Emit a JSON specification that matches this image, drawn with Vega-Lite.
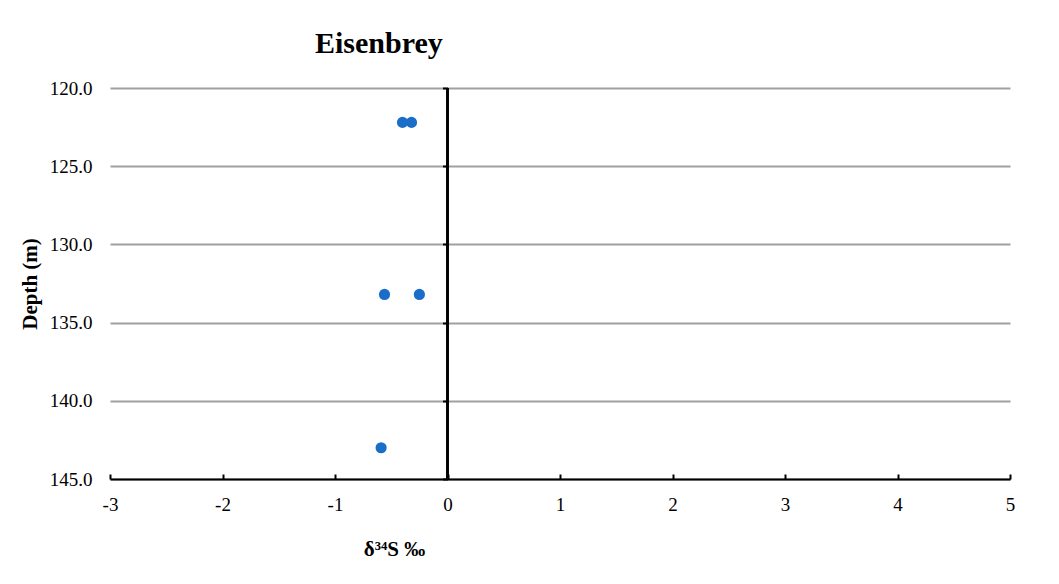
{
  "$schema": "https://vega.github.io/schema/vega-lite/v6.json",
  "width": 900,
  "height": 391,
  "autosize": {"type": "none"},
  "padding": {"left": 110, "top": 88, "right": 49, "bottom": 105},
  "background": "white",
  "config": {
    "view": {"stroke": null},
    "font": "Liberation Serif"
  },
  "title": {
    "text": "Eisenbrey",
    "font": "Liberation Serif",
    "fontSize": 30,
    "fontWeight": "bold",
    "color": "black",
    "anchor": "start",
    "frame": "group",
    "dx": 205,
    "baseline": "alphabetic",
    "offset": -4
  },
  "data": {
    "values": [
      {"d34S": -0.40, "depth": 122.2},
      {"d34S": -0.32, "depth": 122.2},
      {"d34S": -0.56, "depth": 133.2},
      {"d34S": -0.25, "depth": 133.2},
      {"d34S": -0.59, "depth": 143.0}
    ]
  },
  "layer": [
    {
      "mark": {"type": "rule", "color": "black", "strokeWidth": 2},
      "encoding": {
        "x": {"datum": 0, "type": "quantitative", "scale": {"domain": [-3, 5], "nice": false}},
        "y": {
          "datum": 120,
          "type": "quantitative",
          "scale": {"domain": [120, 145], "reverse": true, "nice": false},
          "axis": {
            "orient": "left",
            "offset": -337.5,
            "domain": false,
            "labels": false,
            "grid": false,
            "title": null,
            "values": [120, 125, 130, 135, 140, 145],
            "ticks": true,
            "tickSize": 5,
            "tickWidth": 2,
            "tickColor": "black"
          }
        },
        "y2": {"datum": 145}
      }
    },
    {
      "mark": {"type": "point", "filled": true, "opacity": 1, "size": 125, "color": "#1b6ec8"},
      "encoding": {
        "x": {
          "field": "d34S",
          "type": "quantitative",
          "scale": {"domain": [-3, 5], "nice": false},
          "axis": {
            "orient": "bottom",
            "values": [-3, -2, -1, 0, 1, 2, 3, 4, 5],
            "labelExpr": "'' + datum.value",
            "grid": false,
            "domain": true,
            "domainColor": "black",
            "domainWidth": 2,
            "ticks": true,
            "tickSize": -5,
            "tickWidth": 2,
            "tickColor": "black",
            "labelFont": "Liberation Serif",
            "labelFontSize": 19,
            "labelColor": "black",
            "labelPadding": 21,
            "labelFlush": false,
            "title": "δ³⁴S ‰",
            "titleFont": "Liberation Serif",
            "titleFontSize": 21,
            "titleFontWeight": "bold",
            "titleColor": "black",
            "titleX": 284,
            "titleY": 76,
            "titleAlign": "center",
            "titleBaseline": "alphabetic"
          }
        },
        "y": {
          "field": "depth",
          "type": "quantitative",
          "scale": {"domain": [120, 145], "reverse": true, "nice": false},
          "axis": {
            "orient": "left",
            "values": [120, 125, 130, 135, 140, 145],
            "format": ".1f",
            "domain": false,
            "ticks": false,
            "grid": true,
            "gridColor": "#a0a0a0",
            "gridWidth": 2,
            "gridOpacity": 1,
            "labelFont": "Liberation Serif",
            "labelFontSize": 19,
            "labelColor": "black",
            "labelPadding": 18,
            "labelFlush": false,
            "title": "Depth (m)",
            "titleFont": "Liberation Serif",
            "titleFontSize": 21,
            "titleFontWeight": "bold",
            "titleColor": "black",
            "titleAngle": -90,
            "titleX": -74,
            "titleY": 195.5,
            "titleAlign": "center",
            "titleBaseline": "alphabetic"
          }
        }
      }
    }
  ],
  "resolve": {"axis": {"y": "independent"}}
}
